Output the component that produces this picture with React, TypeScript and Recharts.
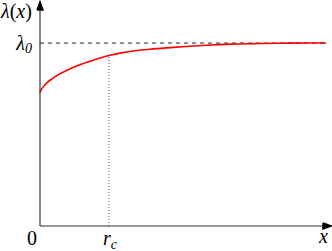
import { ComposedChart, Line, XAxis, YAxis, ReferenceLine } from 'recharts'

// x in arbitrary units (0 at origin), lambda relative to lambda_0
const xValues = [0, 2, 5, 8, 13, 18, 28, 38, 53, 69, 80, 90, 110, 130, 150, 170, 190, 215, 240, 265, 286]
const lambdaValues = [
  0.73, 0.752, 0.772, 0.788, 0.808, 0.826, 0.854, 0.877, 0.906, 0.932, 0.945, 0.954, 0.966, 0.975, 0.983, 0.989,
  0.994, 0.997, 0.999, 1.0, 1.0,
]
const rc = 69
const rcLambda = 0.932
const lambda0 = 1
const xMax = 291
const yMax = 1.23
const dashEnd = 286

const data = xValues.map((x, i) => ({ x, lambda: lambdaValues[i] }))

const FONT = 'Liberation Serif, Times New Roman, serif'
const AXIS = '#333'

// x-axis ticks: origin "0", r_c, and the arrow head with its "x" label
function XTick(props: any) {
  const { x, y, payload } = props
  const v = payload.value
  if (v === 0) {
    return (
      <text x={x - 3} y={y + 19} textAnchor="end" fontFamily={FONT} fontSize={20} fill="#000">
        0
      </text>
    )
  }
  if (v === rc) {
    return (
      <text x={x - 6} y={y + 19} fontFamily={FONT} fontSize={20} fontStyle="italic" fill="#000">
        r
        <tspan fontSize={14} dy={4}>
          c
        </tspan>
      </text>
    )
  }
  return (
    <g>
      <polyline
        points={`${x - 8},${y - 3} ${x},${y} ${x - 8},${y + 3} ${x - 8},${y - 3}`}
        stroke="#000"
        strokeWidth={1.5}
        strokeLinejoin="miter"
        fill="#000"
      />
      <text x={x - 3} y={y + 17} textAnchor="end" fontFamily={FONT} fontSize={20} fontStyle="italic" fill="#000">
        x
      </text>
    </g>
  )
}

// y-axis ticks: λ0 and the arrow head at the top
function YTick(props: any) {
  const { x, y, payload } = props
  if (payload.value === lambda0) {
    return (
      <text x={x - 8} y={y + 7} textAnchor="end" fontFamily={FONT} fontSize={20} fontStyle="italic" fill="#000">
        λ
        <tspan fontSize={14} dy={3}>
          0
        </tspan>
      </text>
    )
  }
  return (
    <polyline
      points={`${x - 3},${y + 9} ${x},${y + 1} ${x + 3},${y + 9} ${x - 3},${y + 9}`}
      stroke="#000"
      strokeWidth={1.5}
      strokeLinejoin="miter"
      fill="#000"
    />
  )
}

function YLabel() {
  return (
    <text x={1} y={18} fontFamily={FONT} fontSize={20} fill="#000">
      <tspan fontStyle="italic">λ</tspan>(<tspan fontStyle="italic">x</tspan>)
    </text>
  )
}

export default function App() {
  return (
    <div style={{ position: 'absolute', left: 0, top: 0, width: 332, height: 251, background: '#fff' }}>
      <ComposedChart width={332} height={251} data={data} margin={{ top: 1, right: 1, bottom: 24, left: 39 }}>
        <XAxis
          type="number"
          dataKey="x"
          domain={[0, xMax]}
          ticks={[0, rc, xMax]}
          interval={0}
          height={1}
          tickSize={0}
          tickMargin={0}
          tickLine={false}
          tick={<XTick />}
          axisLine={{ stroke: AXIS, strokeWidth: 1.2 }}
        />
        <YAxis
          type="number"
          domain={[0, yMax]}
          ticks={[lambda0, yMax]}
          interval={0}
          width={1}
          tickSize={0}
          tickMargin={0}
          tickLine={false}
          tick={<YTick />}
          axisLine={{ stroke: AXIS, strokeWidth: 1.2 }}
          label={<YLabel />}
        />
        <ReferenceLine
          segment={[
            { x: 0, y: lambda0 },
            { x: dashEnd, y: lambda0 },
          ]}
          stroke="#222"
          strokeWidth={1}
          strokeDasharray="4 4"
        />
        <ReferenceLine
          segment={[
            { x: rc, y: 0 },
            { x: rc, y: rcLambda },
          ]}
          stroke="#555"
          strokeWidth={1}
          strokeDasharray="1 2"
        />
        <Line
          type="monotone"
          dataKey="lambda"
          stroke="#ff0000"
          strokeWidth={1.6}
          dot={false}
          isAnimationActive={false}
        />
      </ComposedChart>
    </div>
  )
}
